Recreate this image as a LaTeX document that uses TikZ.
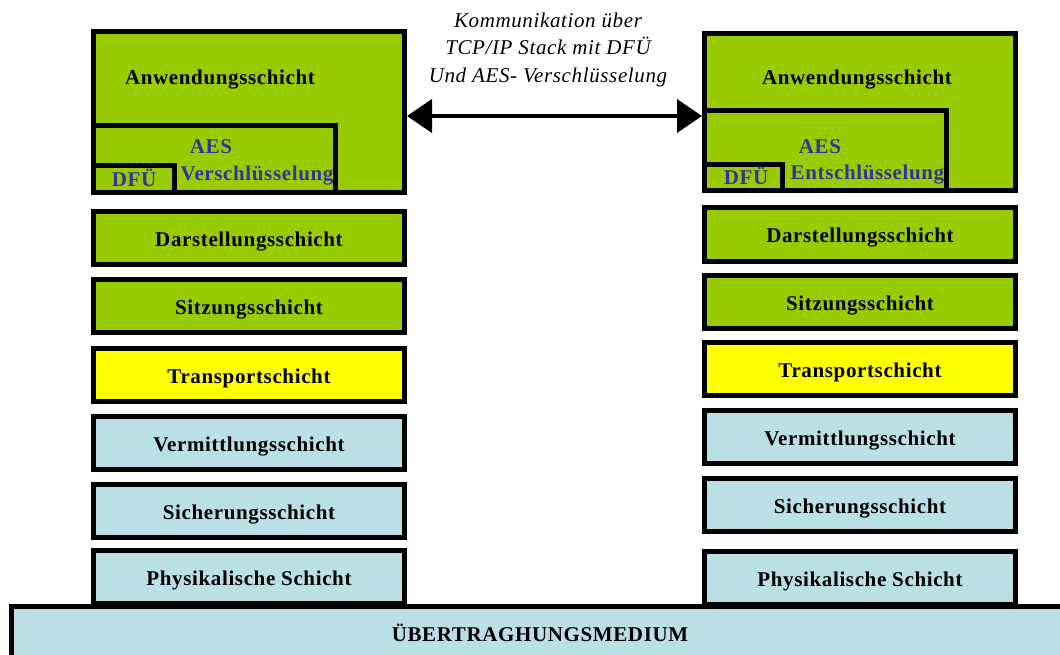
\documentclass[tikz,border=0pt]{standalone}
\usepackage{fontspec}
\setmainfont{Liberation Serif}
\newfontfamily\layerfont[LetterSpace=3]{Liberation Serif}
\usetikzlibrary{arrows.meta}

\definecolor{layergreen}{RGB}{153,204,0}
\definecolor{layeryellow}{RGB}{255,255,0}
\definecolor{layerblue}{RGB}{186,224,227}
\definecolor{cipherblue}{RGB}{51,51,153}

\begin{document}
\begin{tikzpicture}[x=1pt,y=-1pt,
  box/.style={draw=black, line width=5pt, rectangle, inner sep=0pt},
  layer/.style={box, minimum width=311pt, minimum height=53pt,
    text height=17pt, text depth=0pt,
    font=\layerfont\fontsize{21}{25}\selectfont\bfseries},
  txt/.style={inner sep=0pt, font=\layerfont\fontsize{21}{25}\selectfont\bfseries},
  ciphertxt/.style={txt, text=cipherblue},
  note/.style={inner sep=0pt, align=center,
    font=\layerfont\fontsize{21}{27.5}\selectfont\itshape},
  comm/.style={{Triangle[length=25pt,width=33pt]}-{Triangle[length=25pt,width=33pt]},
    line width=4pt}
]
\useasboundingbox (0,0) rectangle (1060,655);
\clip (0,0) rectangle (1060,655);
\fill[white] (0,0) rectangle (1060,655);

% ---- left stack: application layer with AES and DFUe blocks
\node[box, fill=layergreen, minimum width=311pt, minimum height=161pt] (anwL) at (249,112) {};
\node[box, fill=layergreen, minimum width=242pt, minimum height=67pt] (aesL) at (214.5,159) {};
\node[box, fill=layergreen, minimum width=81pt, minimum height=27pt] (dfuL) at (134,179) {};
\node[txt] (anwLt) at (220,80) {Anwendungsschicht};
\node[ciphertxt] (aesLt) at (211,147) {AES};
\node[ciphertxt] (encLt) at (257,176) {Verschlüsselung};
\node[ciphertxt] (dfuLt) at (134,178) {DFÜ};

% ---- left stack: remaining layers
\node[layer, fill=layergreen]  (darL) at (249,238)   {Darstellungsschicht};
\node[layer, fill=layergreen]  (sitL) at (249,306)   {Sitzungsschicht};
\node[layer, fill=layeryellow] (traL) at (249,374.5) {Transportschicht};
\node[layer, fill=layerblue]   (verL) at (249,442.5) {Vermittlungsschicht};
\node[layer, fill=layerblue]   (sicL) at (249,510.5) {Sicherungsschicht};
\node[layer, fill=layerblue]   (phyL) at (249,577)   {Physikalische Schicht};

% ---- right stack: application layer with AES and DFUe blocks
\node[box, fill=layergreen, minimum width=311pt, minimum height=157pt] (anwR) at (860,112) {};
\node[box, fill=layergreen, minimum width=242pt, minimum height=80pt] (aesR) at (825.5,150.5) {};
\node[box, fill=layergreen, minimum width=78pt, minimum height=26pt] (dfuR) at (743.5,177.5) {};
\node[txt] (anwRt) at (857,80) {Anwendungsschicht};
\node[ciphertxt] (aesRt) at (820,147) {AES};
\node[ciphertxt] (decRt) at (867.5,175) {Entschlüsselung};
\node[ciphertxt] (dfuRt) at (746,176) {DFÜ};

% ---- right stack: remaining layers
\node[layer, fill=layergreen]  (darR) at (860,234.5) {Darstellungsschicht};
\node[layer, fill=layergreen]  (sitR) at (860,302)   {Sitzungsschicht};
\node[layer, fill=layeryellow] (traR) at (860,369)   {Transportschicht};
\node[layer, fill=layerblue]   (verR) at (860,436.5) {Vermittlungsschicht};
\node[layer, fill=layerblue]   (sicR) at (860,504.5) {Sicherungsschicht};
\node[layer, fill=layerblue]   (phyR) at (860,578)   {Physikalische Schicht};

% ---- transmission medium
\node[box, fill=layerblue, minimum width=1063.5pt, minimum height=73.5pt] (medium) at (543.25,643.25) {};
\node[txt] (mediumt) at (540,633) {ÜBERTRAGHUNGSMEDIUM};

% ---- communication between the application layers
\draw[comm] ([yshift=-4pt]anwL.east) -- ([yshift=-4pt]anwR.west);
\node[note] (commt) at (548,49.5) {Kommunikation über\\TCP/IP Stack mit DFÜ\\Und AES- Verschlüsselung};
\end{tikzpicture}
\end{document}
